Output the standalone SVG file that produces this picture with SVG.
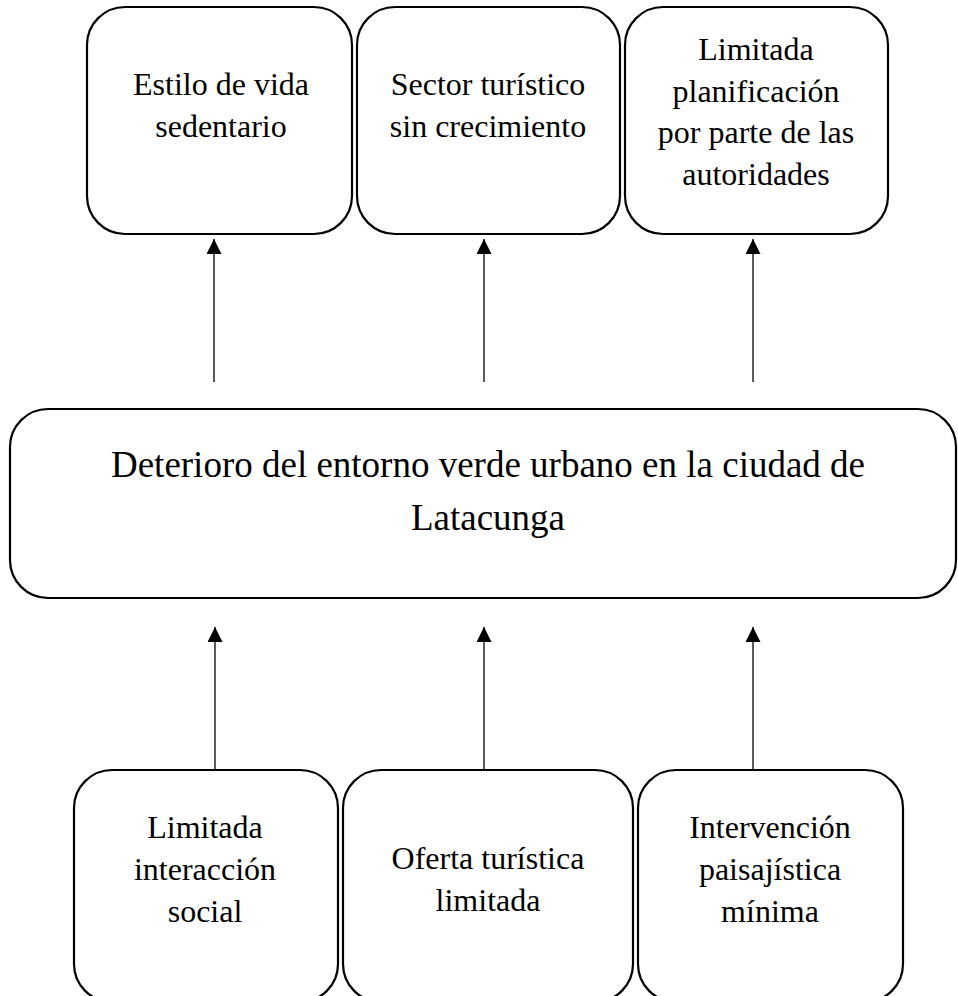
<svg xmlns="http://www.w3.org/2000/svg" width="958" height="996" viewBox="0 0 958 996">
<style>
.box{fill:#fff;stroke:#000;stroke-width:2.2}
.t{font-family:"Liberation Serif","Times New Roman",serif;font-size:32px;fill:#000;text-anchor:middle}
.tm{font-family:"Liberation Serif","Times New Roman",serif;font-size:37px;fill:#000;text-anchor:middle}
.c{stroke:#000;stroke-width:1.3;fill:none}
</style>
<defs>
<marker id="ah" viewBox="0 0 15 15" refX="15" refY="7.5" markerWidth="15" markerHeight="15" markerUnits="userSpaceOnUse" orient="auto">
<path d="M0,0 L15,7.5 L0,15 Z" fill="#000"/>
</marker>
</defs>
<rect width="958" height="996" fill="#fff"/>
<g id="n-estilo">
<rect class="box" x="87" y="7" width="265" height="227" rx="38"/>
<text class="t" x="221" y="95">Estilo de vida</text>
<text class="t" x="221" y="137">sedentario</text>
</g>
<g id="n-sector">
<rect class="box" x="357" y="7" width="263" height="227" rx="38"/>
<text class="t" x="488" y="95">Sector turístico</text>
<text class="t" x="488" y="137">sin crecimiento</text>
</g>
<g id="n-limitada-plan">
<rect class="box" x="625" y="7" width="263" height="227" rx="38"/>
<text class="t" x="756" y="60">Limitada</text>
<text class="t" x="756" y="102">planificación</text>
<text class="t" x="756" y="143">por parte de las</text>
<text class="t" x="756" y="185">autoridades</text>
</g>
<g id="n-deterioro">
<rect class="box" x="10" y="409" width="946" height="189" rx="38"/>
<text class="tm" x="488" y="477">Deterioro del entorno verde urbano en la ciudad de</text>
<text class="tm" x="488" y="530">Latacunga</text>
</g>
<g id="n-interaccion">
<rect class="box" x="74" y="770" width="264" height="232" rx="38"/>
<text class="t" x="205" y="838">Limitada</text>
<text class="t" x="205" y="880">interacción</text>
<text class="t" x="205" y="922">social</text>
</g>
<g id="n-oferta">
<rect class="box" x="343" y="770" width="290" height="232" rx="38"/>
<text class="t" x="488" y="869">Oferta turística</text>
<text class="t" x="488" y="911">limitada</text>
</g>
<g id="n-intervencion">
<rect class="box" x="638" y="770" width="265" height="232" rx="38"/>
<text class="t" x="770" y="838">Intervención</text>
<text class="t" x="770" y="880">paisajística</text>
<text class="t" x="770" y="922">mínima</text>
</g>
<g id="connectors">
<line class="c" x1="214" y1="382" x2="214" y2="239" marker-end="url(#ah)"/>
<line class="c" x1="484" y1="382" x2="484" y2="239" marker-end="url(#ah)"/>
<line class="c" x1="753" y1="382" x2="753" y2="239" marker-end="url(#ah)"/>
<line class="c" x1="215" y1="770" x2="215" y2="627" marker-end="url(#ah)"/>
<line class="c" x1="484" y1="770" x2="484" y2="627" marker-end="url(#ah)"/>
<line class="c" x1="753" y1="770" x2="753" y2="627" marker-end="url(#ah)"/>
</g>
</svg>
